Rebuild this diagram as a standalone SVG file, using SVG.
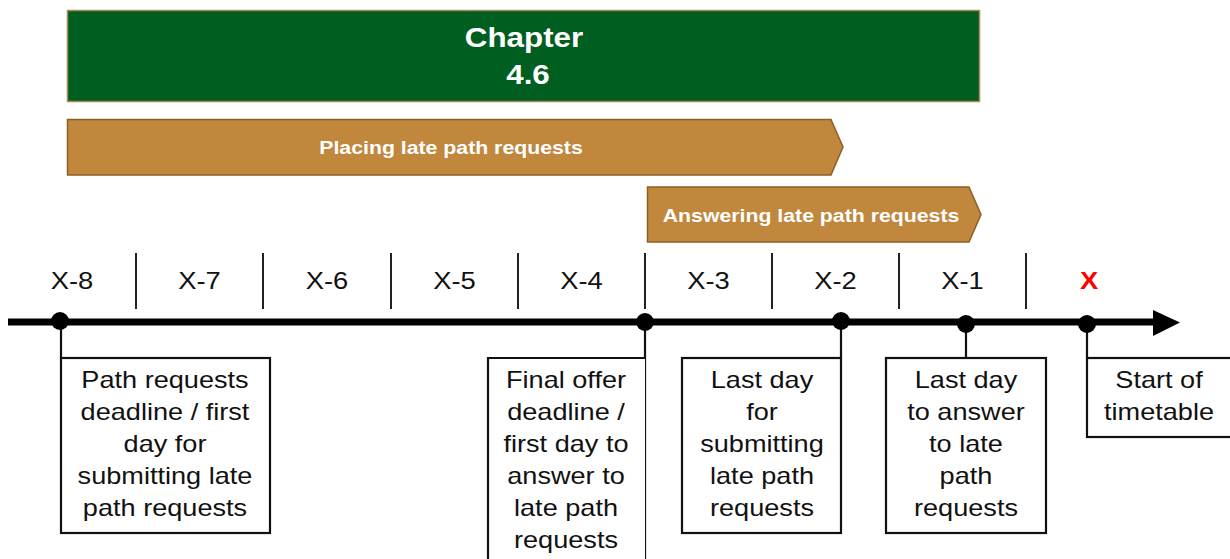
<svg xmlns="http://www.w3.org/2000/svg" width="1230" height="559" viewBox="0 0 1230 559">
<defs>
<style>
.t{font-family:"Liberation Sans",Arial,sans-serif;fill:#111;text-anchor:middle}
.lbl{font-size:24px}
.box{fill:#fff;stroke:#111;stroke-width:2.2}
.sep{stroke:#222;stroke-width:2}
.con{stroke:#111;stroke-width:2.2;fill:none}
.arr{fill:#C0873D;stroke:#8C6024;stroke-width:1.5}
.wt{font-family:"Liberation Sans",Arial,sans-serif;fill:#fff;font-weight:bold;text-anchor:middle}
</style>
</defs>
<rect width="1230" height="559" fill="#fff"/>
<g id="chapter">
<rect x="67.5" y="10.5" width="912" height="91" fill="#005E20" stroke="#A68A5C" stroke-width="1.5"/>
<text class="wt" font-size="28" transform="translate(524,0) scale(1.12,1)" x="0" y="47">Chapter</text>
<text class="wt" font-size="28" transform="translate(528,0) scale(1.12,1)" x="0" y="84">4.6</text>
</g>
<g id="placing">
<polygon class="arr" points="67.5,119.5 831,119.5 843,147 831,175 67.5,175"/>
<text class="wt" font-size="19" transform="translate(451,0) scale(1.12,1)" x="0" y="154.5">Placing late path requests</text>
</g>
<g id="answering">
<polygon class="arr" points="647.5,187 969,187 981,214.5 969,242 647.5,242"/>
<text class="wt" font-size="19" transform="translate(811,0) scale(1.12,1)" x="0" y="222">Answering late path requests</text>
</g>
<g id="ticks">
<line class="sep" x1="136" y1="253" x2="136" y2="309"/>
<line class="sep" x1="263" y1="253" x2="263" y2="309"/>
<line class="sep" x1="391" y1="253" x2="391" y2="309"/>
<line class="sep" x1="518" y1="253" x2="518" y2="309"/>
<line class="sep" x1="645" y1="253" x2="645" y2="309"/>
<line class="sep" x1="772" y1="253" x2="772" y2="309"/>
<line class="sep" x1="899" y1="253" x2="899" y2="309"/>
<line class="sep" x1="1026" y1="253" x2="1026" y2="309"/>
<text class="t lbl" transform="translate(72,0) scale(1.14,1)" x="0" y="289">X-8</text>
<text class="t lbl" transform="translate(199.5,0) scale(1.14,1)" x="0" y="289">X-7</text>
<text class="t lbl" transform="translate(327,0) scale(1.14,1)" x="0" y="289">X-6</text>
<text class="t lbl" transform="translate(454.5,0) scale(1.14,1)" x="0" y="289">X-5</text>
<text class="t lbl" transform="translate(581.5,0) scale(1.14,1)" x="0" y="289">X-4</text>
<text class="t lbl" transform="translate(708.5,0) scale(1.14,1)" x="0" y="289">X-3</text>
<text class="t lbl" transform="translate(835.5,0) scale(1.14,1)" x="0" y="289">X-2</text>
<text class="t lbl" transform="translate(962.5,0) scale(1.14,1)" x="0" y="289">X-1</text>
<text class="t lbl" transform="translate(1089,0) scale(1.14,1)" x="0" y="289" style="fill:#FF0000;font-weight:bold">X</text>
</g>
<g id="connectors">
<line x1="8" y1="322" x2="1156" y2="322" stroke="#000" stroke-width="7"/>
<polygon points="1153,310 1180,322.5 1153,336" fill="#000"/>
<line class="con" x1="61" y1="321" x2="61" y2="358"/>
<line class="con" x1="645" y1="322" x2="645" y2="559"/>
<line class="con" x1="841" y1="321" x2="841" y2="358"/>
<line class="con" x1="966" y1="324" x2="966" y2="358"/>
<line class="con" x1="1087" y1="324" x2="1087" y2="358"/>
<circle cx="60" cy="321" r="9" fill="#000"/>
<circle cx="645" cy="322" r="9" fill="#000"/>
<circle cx="841" cy="321" r="9" fill="#000"/>
<circle cx="966" cy="324" r="9" fill="#000"/>
<circle cx="1087" cy="324" r="9" fill="#000"/>
</g>
<g id="box1">
<rect class="box" x="61" y="358" width="209" height="175"/>
<text class="t lbl" transform="translate(165,0) scale(1.13,1)"><tspan x="0" y="388">Path requests</tspan><tspan x="0" y="420">deadline / first</tspan><tspan x="0" y="452">day for</tspan><tspan x="0" y="484">submitting late</tspan><tspan x="0" y="516">path requests</tspan></text>
</g>
<g id="box2">
<path class="box" d="M645,358 H488 V562 H645"/>
<text class="t lbl" transform="translate(566,0) scale(1.13,1)"><tspan x="0" y="388">Final offer</tspan><tspan x="0" y="420">deadline /</tspan><tspan x="0" y="452">first day to</tspan><tspan x="0" y="484">answer to</tspan><tspan x="0" y="516">late path</tspan><tspan x="0" y="548">requests</tspan></text>
</g>
<g id="box3">
<rect class="box" x="682" y="358" width="159" height="175"/>
<text class="t lbl" transform="translate(762,0) scale(1.13,1)"><tspan x="0" y="388">Last day</tspan><tspan x="0" y="420">for</tspan><tspan x="0" y="452">submitting</tspan><tspan x="0" y="484">late path</tspan><tspan x="0" y="516">requests</tspan></text>
</g>
<g id="box4">
<rect class="box" x="886" y="358" width="160" height="175"/>
<text class="t lbl" transform="translate(966,0) scale(1.13,1)"><tspan x="0" y="388">Last day</tspan><tspan x="0" y="420">to answer</tspan><tspan x="0" y="452">to late</tspan><tspan x="0" y="484">path</tspan><tspan x="0" y="516">requests</tspan></text>
</g>
<g id="box5">
<rect class="box" x="1087" y="358" width="150" height="79"/>
<text class="t lbl" transform="translate(1159,0) scale(1.13,1)"><tspan x="0" y="388">Start of</tspan><tspan x="0" y="420">timetable</tspan></text>
</g>
</svg>
